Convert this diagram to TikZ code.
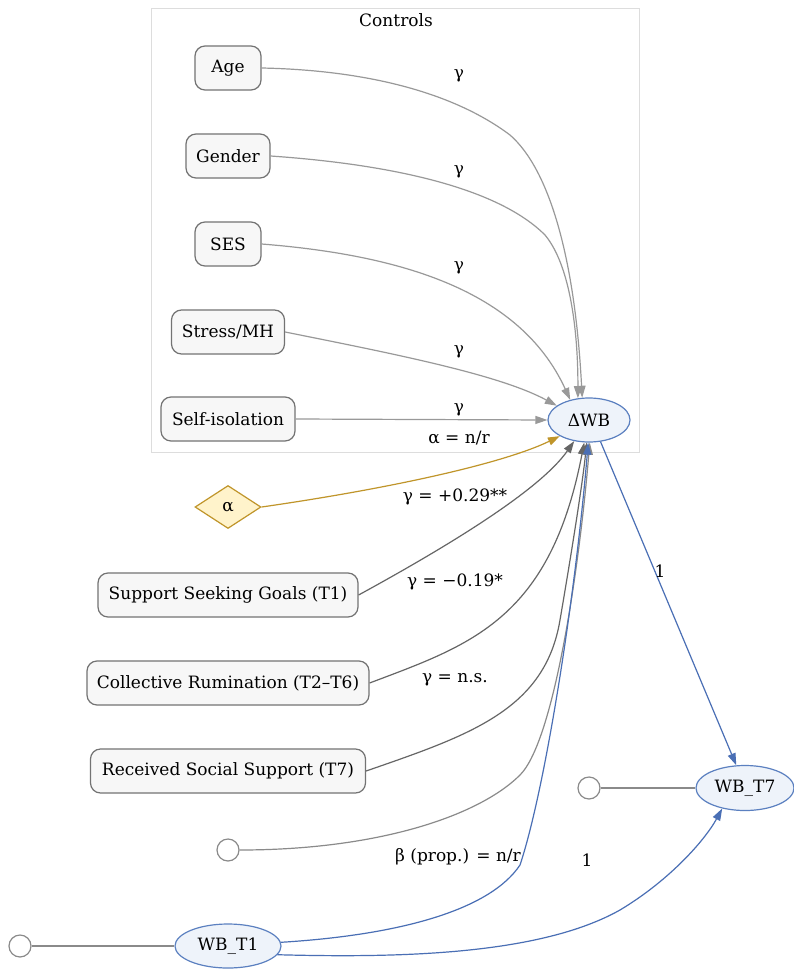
\documentclass[tikz,border=0pt]{standalone}
\usepackage{fontspec}
\setmainfont{DejaVu Serif}
\usetikzlibrary{arrows.meta,shapes.geometric}
\definecolor{boxdraw}{HTML}{737373}
\definecolor{boxfill}{HTML}{F7F7F7}
\definecolor{ctrl}{HTML}{999999}
\definecolor{pred}{HTML}{666666}
\definecolor{resid}{HTML}{8A8A8A}
\definecolor{blueline}{HTML}{4A6FB5}
\definecolor{bluedraw}{HTML}{5B80C0}
\definecolor{bluefill}{HTML}{EEF3FA}
\definecolor{gold}{HTML}{C0952A}
\definecolor{goldfill}{HTML}{FFF3CB}
\definecolor{clus}{HTML}{DDDDDD}
\begin{document}
\begin{tikzpicture}[x=1pt,y=-1pt,
  font=\fontsize{17}{19}\selectfont,
  box/.style={draw=boxdraw, fill=boxfill, rounded corners=10pt, line width=1.2pt, minimum height=44pt, inner sep=0pt},
  ell/.style={ellipse, draw=bluedraw, fill=bluefill, line width=1.2pt, inner sep=0pt},
  dotnode/.style={circle, draw=resid, fill=white, minimum size=22pt, inner sep=0pt, line width=1.2pt},
  lbl/.style={inner sep=1pt},
  arr/.style={-{Triangle[length=12pt,width=8pt]}, line width=1.2pt},
  plain/.style={line width=1.2pt}
]
\useasboundingbox (0,0) rectangle (794,969);
\fill[white] (0,0) rectangle (794,969);
% cluster
\draw[clus, line width=1pt] (151,8) rectangle (639,452);
\node[lbl] (ctitle) at (396,20) {Controls};
% nodes
\node[box, minimum width=66pt] (age) at (228,68) {Age};
\node[box, minimum width=84pt] (gender) at (228,156) {Gender};
\node[box, minimum width=66pt] (ses) at (228,244) {SES};
\node[box, minimum width=113pt] (stress) at (228,332) {Stress/MH};
\node[box, minimum width=134pt] (iso) at (228,419) {Self-isolation};
\node[ell, minimum width=82pt, minimum height=44pt] (dwb) at (589,420) {ΔWB};
\node[diamond, draw=gold, fill=goldfill, line width=1.2pt, minimum width=66pt, minimum height=43pt, inner sep=0pt] (alpha) at (228,507) {α};
\node[box, minimum width=260pt] (ssg) at (228,595) {Support Seeking Goals (T1)};
\node[box, minimum width=282pt] (cr) at (228,683) {Collective Rumination (T2–T6)};
\node[box, minimum width=275pt] (rss) at (228,771) {Received Social Support (T7)};
\node[dotnode] (e1) at (228,850) {};
\node[ell, minimum width=98pt, minimum height=45pt] (wbt7) at (745,788) {WB\_T7};
\node[dotnode] (e2) at (589,788) {};
\node[ell, minimum width=106pt, minimum height=44pt] (wbt1) at (228,946) {WB\_T1};
\node[dotnode] (e3) at (20,946) {};
% control edges
\draw[arr, ctrl] (age.east) .. controls (360,70) and (450,90) .. (510,135) .. controls (550,170) and (575,260) .. (dwb.107);
\draw[arr, ctrl] (gender.east) .. controls (400,165) and (500,190) .. (545,235) .. controls (570,265) and (578,330) .. (dwb.117);
\draw[arr, ctrl] (ses.east) .. controls (400,255) and (520,290) .. (dwb.133);
\draw[arr, ctrl] (stress.east) .. controls (400,355) and (500,375) .. (dwb.156);
\draw[arr, ctrl] (iso.east) -- (dwb.west);
% alpha
\draw[arr, gold] (alpha.east) .. controls (380,490) and (500,465) .. (dwb.209);
% predictors
\draw[arr, pred] (ssg.east) .. controls (450,545) and (540,490) .. (dwb.235);
\draw[arr, pred] (cr.east) .. controls (470,645) and (550,620) .. (dwb.258);
\draw[arr, pred] (rss.east) .. controls (470,735) and (545,710) .. (560,620) .. controls (572,550) and (583,480) .. (dwb.264);
\draw[arr, resid] (e1.east) .. controls (380,850) and (480,815) .. (520,775) .. controls (555,740) and (580,560) .. (dwb.272);
% blue
\draw[arr, blueline] (wbt1.4) .. controls (400,935) and (490,910) .. (520,865) .. controls (545,790) and (575,600) .. (dwb.268);
\draw[arr, blueline] (wbt1.-10) .. controls (400,958) and (540,955) .. (620,910) .. controls (670,880) and (705,840) .. (wbt7.222);
\draw[arr, blueline] (dwb.298) -- (wbt7.111);
% residual lines
\draw[plain, resid] (e2.east) -- (wbt7.west);
\draw[plain, resid] (e3.east) -- (wbt1.west);
% labels
\node[lbl] (l1) at (459,76) {γ};
\node[lbl] (l2) at (459,172) {γ};
\node[lbl] (l3) at (459,268) {γ};
\node[lbl] (l4) at (459,352) {γ};
\node[lbl] (l5) at (459,410) {γ};
\node[lbl] (la) at (459,438) {α = n/r};
\node[lbl] (lssg) at (455,497) {γ = +0.29**};
\node[lbl] (lcr) at (455,582) {γ = −0.19*};
\node[lbl] (lrss) at (455,680) {γ = n.s.};
\node[lbl] (lbeta) at (458,857) {β (prop.) = n/r};
\node[lbl] (lone1) at (660,571) {1};
\node[lbl] (lone2) at (587,860) {1};
\end{tikzpicture}
\end{document}
